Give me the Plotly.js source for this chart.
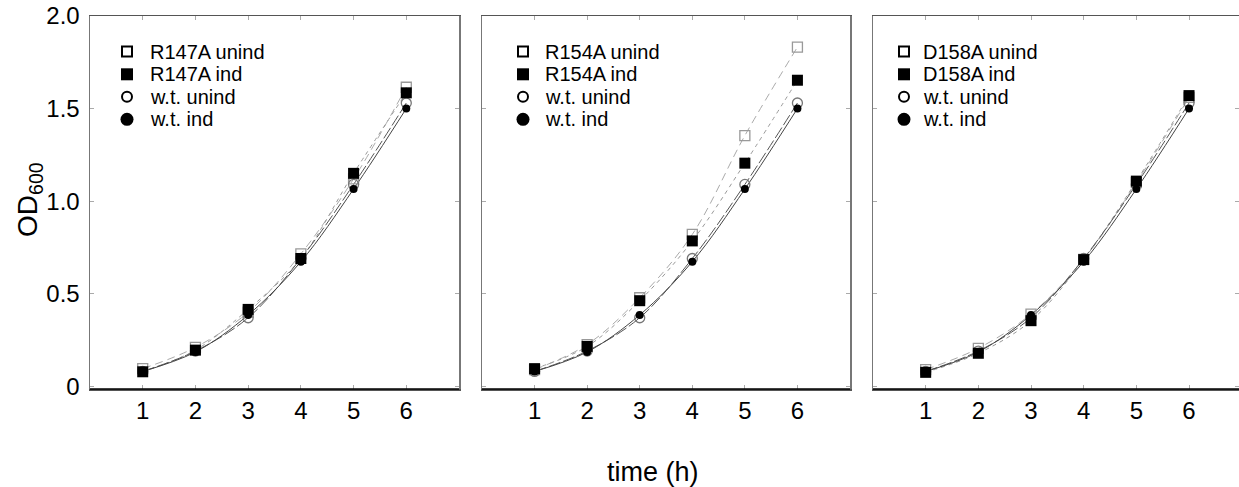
<!DOCTYPE html>
<html>
<head>
<meta charset="utf-8">
<script src="https://cdn.plot.ly/plotly-3.0.1.min.js"></script>
<style>html,body{margin:0;padding:0;background:#fff;}#chart{width:1239px;height:487px;}</style>
</head>
<body>
<div id="chart"></div>
<script>
// ---- data ----
const time = [1, 2, 3, 4, 5, 6];
const wtUnind = [0.08, 0.19, 0.37, 0.69, 1.09, 1.53];
const wtInd   = [0.08, 0.185, 0.385, 0.673, 1.065, 1.50];

const mutantNames = ["R147A", "R154A", "D158A"];
const r147aUnind = [0.095, 0.21, 0.40, 0.715, 1.12, 1.615];
const r147aInd   = [0.078, 0.195, 0.415, 0.69, 1.15, 1.585];
const r154aUnind = [0.09, 0.225, 0.478, 0.82, 1.354, 1.832];
const r154aInd   = [0.095, 0.215, 0.462, 0.785, 1.205, 1.653];
const d158aUnind = [0.09, 0.205, 0.39, 0.685, 1.10, 1.56];
const d158aInd   = [0.075, 0.178, 0.354, 0.684, 1.108, 1.57];

const yTickVals = [0, 0.5, 1, 1.5, 2];
const yTickText = ["0", "0.5", "1.0", "1.5", "2.0"];
const xTickVals = [1, 2, 3, 4, 5, 6];

const legendSuffixes = [" unind", " ind"];
const wtLabels = ["w.t. unind", "w.t. ind"];

const mutUnind = [r147aUnind, r154aUnind, d158aUnind];
const mutInd = [r147aInd, r154aInd, d158aInd];

// ---- styles ----
const FONT = "Liberation Sans, Arial, Helvetica, sans-serif";
const lineStyles = {
  mutUnind: {color: "#aaaaaa", width: 1, dash: "8px,5px"},
  mutInd:   {color: "#999999", width: 1, dash: "4px,4px"},
  wtUnind:  {color: "#555555", width: 1, dash: "12px,3px"},
  wtInd:    {color: "#444444", width: 1, dash: "solid"}
};
const markerStyles = [
  {symbol: "square-open", size: 10, color: "#999999", line: {width: 1.3, color: "#999999"}},
  {symbol: "square", size: 11, color: "#000"},
  {symbol: "circle-open", size: 10, color: "#777777", line: {width: 1.3, color: "#777777"}},
  {symbol: "circle", size: 8, color: "#000"}
];
const lineList = [lineStyles.mutUnind, lineStyles.mutInd, lineStyles.wtUnind, lineStyles.wtInd];
const markerDrawOrder = [0, 2, 3, 1];

const traces = [];
for (let p = 0; p < 3; p++) {
  const xa = p === 0 ? "x" : "x" + (p + 1);
  const ya = p === 0 ? "y" : "y" + (p + 1);
  const names = [mutantNames[p] + legendSuffixes[0], mutantNames[p] + legendSuffixes[1], wtLabels[0], wtLabels[1]];
  const ys = [mutUnind[p], mutInd[p], wtUnind, wtInd];
  ys.forEach((yv, i) => {
    traces.push({x: time, y: yv, xaxis: xa, yaxis: ya, mode: "lines", name: names[i],
      line: Object.assign({shape: "spline", smoothing: 1}, lineList[i]), showlegend: false, hoverinfo: "skip"});
  });
  markerDrawOrder.forEach(i => {
    traces.push({x: time, y: ys[i], xaxis: xa, yaxis: ya, mode: "markers",
      marker: markerStyles[i], showlegend: false, name: names[i]});
  });
}

const W = 1239, H = 487;
const xDomains = [[90 / W, 459 / W], [482 / W, 850 / W], [873 / W, 1]];
const xRanges = [[0, 7], [0, 7], [0, (W - 873) / 52.67]];
const yDom = [(H - 389) / H, (H - 16) / H];
const legendSymX = [127, 523, 904];
const legendTextX = [148, 543, 921];
const legendRowY = [51.5, 74.3, 96.8, 119.3];
// legend key: [type, half-size, filled]
const legendKeys = [["rect", 5, false], ["rect", 6, true], ["circle", 5, false], ["circle", 6.5, true]];

const layout = {
  width: W, height: H,
  margin: {l: 0, r: 0, t: 0, b: 0},
  paper_bgcolor: "#fff", plot_bgcolor: "#fff",
  font: {family: FONT, color: "#000", size: 18},
  showlegend: false,
  shapes: [], annotations: []
};

for (let p = 0; p < 3; p++) {
  const sfx = p === 0 ? "" : String(p + 1);
  layout["xaxis" + sfx] = {
    domain: xDomains[p], range: xRanges[p], anchor: "y" + sfx,
    tickvals: xTickVals, ticks: "inside", ticklen: 4, tickcolor: "#aaaaaa", tickwidth: 1,
    showline: true, linecolor: "#555555", linewidth: 1.5, mirror: "ticks",
    showgrid: false, zeroline: false, fixedrange: true,
    tickfont: {family: FONT, size: 24, color: "#000"}
  };
  layout["yaxis" + sfx] = {
    domain: yDom, range: [-0.015, 2.0], anchor: "x" + sfx,
    tickvals: yTickVals, ticktext: yTickText, ticks: "inside", ticklen: 4, tickcolor: "#aaaaaa", tickwidth: 1,
    showline: true, linecolor: "#777777", linewidth: 1.5, mirror: "ticks",
    showgrid: false, zeroline: false, fixedrange: true,
    showticklabels: p === 0, ticklabelstandoff: 4,
    tickfont: {family: FONT, size: 24, color: "#000"}
  };
  layout.shapes.push({type: "line", xref: "x" + sfx + " domain", yref: "y" + sfx + " domain",
    x0: 0, x1: 1, y0: 0, y1: 0, line: {color: "#000", width: 1.5}, layer: "above"});

  // legend: key shapes + real text
  const names = [mutantNames[p] + legendSuffixes[0], mutantNames[p] + legendSuffixes[1], wtLabels[0], wtLabels[1]];
  for (let i = 0; i < 4; i++) {
    const k = legendKeys[i];
    const cx = legendSymX[p], cy = legendRowY[i], r = k[1];
    layout.shapes.push({
      type: k[0], xref: "paper", yref: "paper",
      x0: (cx - r) / W, x1: (cx + r) / W, y0: (H - cy - r) / H, y1: (H - cy + r) / H,
      line: {color: "#000", width: k[2] ? 0 : 2}, fillcolor: k[2] ? "#000" : "rgba(0,0,0,0)", layer: "above"
    });
    layout.annotations.push({
      text: names[i], xref: "paper", yref: "paper",
      x: legendTextX[p] / W, y: (H - cy) / H, xanchor: "left", yanchor: "middle",
      showarrow: false, font: {family: FONT, size: 20, color: "#000"}
    });
  }
}

layout.annotations.push({
  text: "OD<sub>600</sub>", xref: "paper", yref: "paper",
  x: 29 / W, y: (H - 200) / H, xanchor: "center", yanchor: "middle",
  textangle: -90, showarrow: false, font: {family: FONT, size: 28, color: "#000"}
});
layout.annotations.push({
  text: "time (h)", xref: "paper", yref: "paper",
  x: 653 / W, y: (H - 472) / H, xanchor: "center", yanchor: "middle",
  showarrow: false, font: {family: FONT, size: 27, color: "#000"}
});

Plotly.newPlot("chart", traces, layout, {displayModeBar: false, staticPlot: true});
</script>
</body>
</html>
